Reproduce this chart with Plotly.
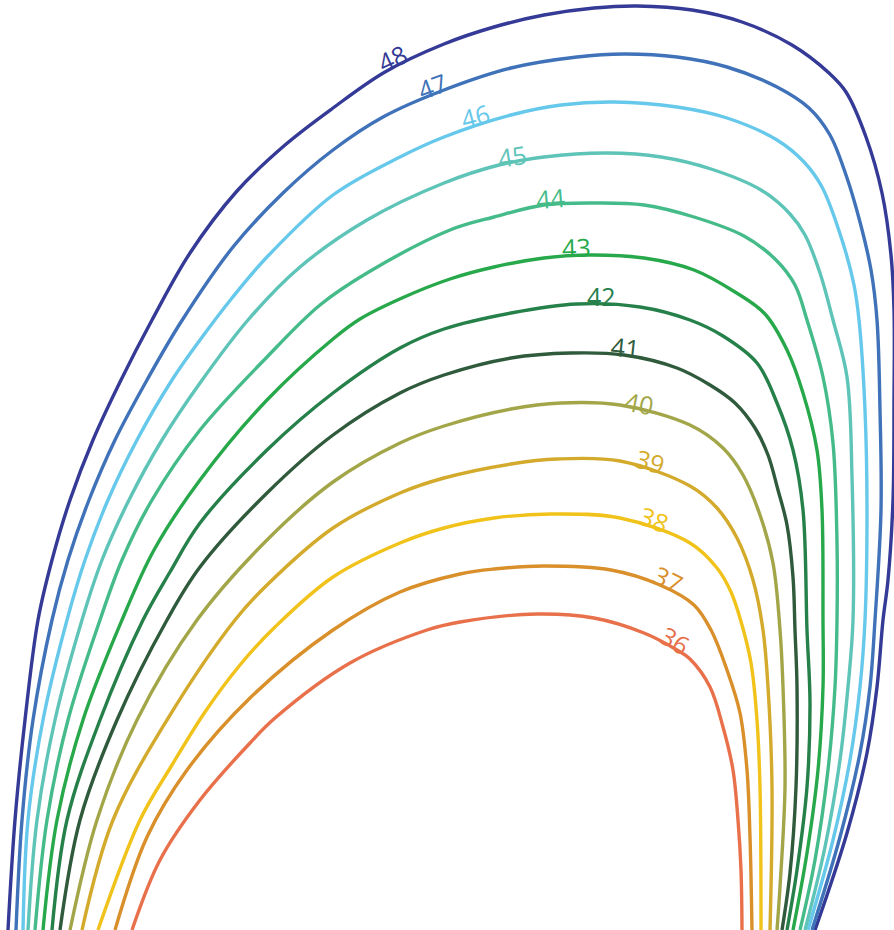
import plotly.graph_objects as go

levels = [48, 47, 46, 45, 44, 43, 42, 41, 40, 39, 38, 37, 36]
colors = ["#343a96", "#3f72b8", "#66c8ea", "#5ec4b8", "#45bb8a", "#27a84a",
          "#25804a", "#2f5a3c", "#a2a648", "#d3aa2c", "#f0c21a", "#d98f2a", "#e8704a"]

x48 = [8, 15, 25, 38, 52, 70, 93, 121, 152, 190, 237, 285, 333, 385, 444, 494, 544, 594, 637, 692, 742, 792, 829, 846, 866, 882, 891, 894, 894, 893, 888, 883, 877, 867, 847, 815]
y48 = [930, 820, 720, 620, 560, 500, 440, 380, 320, 253, 191, 145, 108, 72, 44, 27, 15, 8, 6, 10, 22, 45, 73, 92, 137, 193, 255, 310, 400, 500, 580, 620, 687, 753, 833, 930]

x47 = [16, 22, 33, 52, 68, 89, 115, 147, 181, 233, 283, 333, 383, 444, 511, 577, 624, 677, 727, 777, 809, 830, 846, 860, 871, 877, 880, 881, 875, 870, 860, 840, 812]
y47 = [930, 820, 720, 620, 560, 500, 440, 380, 322, 247, 193, 150, 117, 90, 68, 57, 54, 57, 67, 87, 108, 135, 175, 222, 270, 320, 410, 510, 620, 687, 753, 837, 930]

x46 = [23, 28, 43, 67, 85, 108, 137, 172, 200, 232, 267, 333, 400, 444, 511, 561, 614, 677, 727, 777, 804, 822, 842, 854, 859, 865, 867, 865, 860, 850, 833, 808]
y46 = [930, 820, 720, 620, 560, 500, 440, 380, 340, 298, 257, 195, 157, 137, 115, 105, 102, 107, 118, 140, 162, 187, 240, 285, 320, 410, 510, 620, 687, 760, 840, 930]

x45 = [28, 37, 55, 82, 102, 129, 162, 200, 248, 300, 367, 444, 499, 544, 607, 661, 711, 761, 790, 805, 820, 833, 847, 852, 853, 848, 840, 825, 805]
y45 = [930, 820, 720, 620, 560, 500, 440, 383, 320, 267, 220, 183, 165, 157, 153, 157, 169, 190, 214, 235, 273, 320, 377, 477, 620, 687, 760, 847, 930]

x44 = [35, 47, 68, 100, 122, 152, 200, 267, 320, 367, 450, 494, 544, 597, 644, 694, 744, 776, 795, 807, 823, 833, 837, 837, 835, 828, 815, 800]
y44 = [930, 820, 720, 620, 560, 500, 430, 357, 305, 273, 230, 217, 205, 203, 205, 217, 236, 260, 285, 320, 377, 443, 543, 620, 687, 770, 860, 930]

x43 = [43, 57, 83, 122, 154, 200, 267, 333, 360, 402, 450, 494, 544, 587, 644, 694, 735, 765, 787, 803, 817, 822, 823, 823, 818, 807, 793]
y43 = [930, 820, 720, 620, 550, 480, 400, 339, 319, 298, 279, 267, 258, 255, 258, 270, 292, 314, 350, 393, 450, 510, 620, 687, 770, 853, 930]

x42 = [52, 67, 100, 143, 170, 200, 267, 333, 400, 444, 511, 577, 640, 690, 723, 757, 777, 793, 803, 807, 810, 807, 797, 787]
y42 = [930, 820, 720, 620, 572, 523, 450, 393, 348, 329, 313, 304, 307, 320, 336, 363, 403, 450, 510, 630, 703, 787, 870, 930]

x41 = [60, 80, 117, 167, 200, 267, 333, 400, 444, 511, 571, 624, 677, 710, 735, 755, 768, 778, 787, 793, 795, 797, 796, 790, 782]
y41 = [930, 820, 720, 620, 567, 493, 435, 393, 375, 358, 353, 355, 368, 385, 403, 428, 455, 490, 525, 577, 630, 687, 787, 873, 930]

x40 = [70, 97, 137, 197, 267, 333, 400, 444, 511, 561, 620, 690, 723, 743, 760, 773, 780, 783, 785, 780, 777]
y40 = [930, 820, 720, 620, 540, 482, 443, 426, 409, 403, 405, 425, 448, 475, 515, 563, 630, 687, 787, 887, 930]

x39 = [82, 113, 167, 235, 267, 333, 400, 444, 511, 557, 620, 690, 717, 737, 753, 763, 768, 772, 770]
y39 = [930, 820, 720, 620, 585, 528, 493, 478, 464, 459, 461, 486, 508, 538, 580, 630, 687, 787, 930]

x38 = [98, 140, 172, 205, 240, 275, 333, 400, 444, 494, 551, 620, 690, 717, 731, 742, 751, 757, 760, 761]
y38 = [930, 820, 765, 712, 665, 627, 577, 543, 528, 518, 514, 518, 543, 568, 592, 625, 663, 720, 787, 930]

x37 = [115, 147, 187, 250, 333, 400, 460, 494, 544, 611, 660, 694, 711, 727, 740, 747, 750, 752]
y37 = [930, 837, 770, 698, 630, 592, 574, 569, 566, 570, 585, 605, 630, 670, 713, 770, 837, 930]

x36 = [132, 160, 200, 250, 275, 350, 427, 460, 537, 594, 644, 677, 690, 710, 723, 733, 738, 741, 742]
y36 = [930, 860, 800, 743, 718, 663, 630, 622, 614, 618, 633, 650, 659, 687, 727, 770, 820, 870, 930]

curves_x = [x48, x47, x46, x45, x44, x43, x42, x41, x40, x39, x38, x37, x36]
curves_y = [y48, y47, y46, y45, y44, y43, y42, y41, y40, y39, y38, y37, y36]

label_x = [392, 432, 475, 512, 550, 576, 601, 625, 639, 650, 654, 668, 675]
label_y = [58, 86, 116, 156, 198, 247, 296, 347, 403, 461, 519, 579, 640]
label_angle = [-25, -20, -15, -9, -5, -2, 0, 6, 11, 16, 21, 26, 31]

fig = go.Figure()
for lev, col, xs, ys in zip(levels, colors, curves_x, curves_y):
    fig.add_trace(go.Scatter(x=xs, y=ys, mode="lines", name=str(lev),
                             line=dict(color=col, width=3.4, shape="spline", smoothing=1.0),
                             hoverinfo="name", showlegend=False))

for lev, col, lx, ly, ang in zip(levels, colors, label_x, label_y, label_angle):
    fig.add_annotation(x=lx, y=ly, text=str(lev), showarrow=False, textangle=ang,
                       font=dict(family="Open Sans", size=25, color=col),
                       xanchor="center", yanchor="middle")

fig.update_xaxes(range=[0, 894], visible=False, fixedrange=True)
fig.update_yaxes(range=[930, 0], visible=False, fixedrange=True)
fig.update_layout(width=894, height=930, margin=dict(l=0, r=0, t=0, b=0),
                  plot_bgcolor="white", paper_bgcolor="white")

fig.write_html("out.html", config={"displayModeBar": False},
               post_script="document.body.style.margin='0';document.body.style.overflow='hidden';")
